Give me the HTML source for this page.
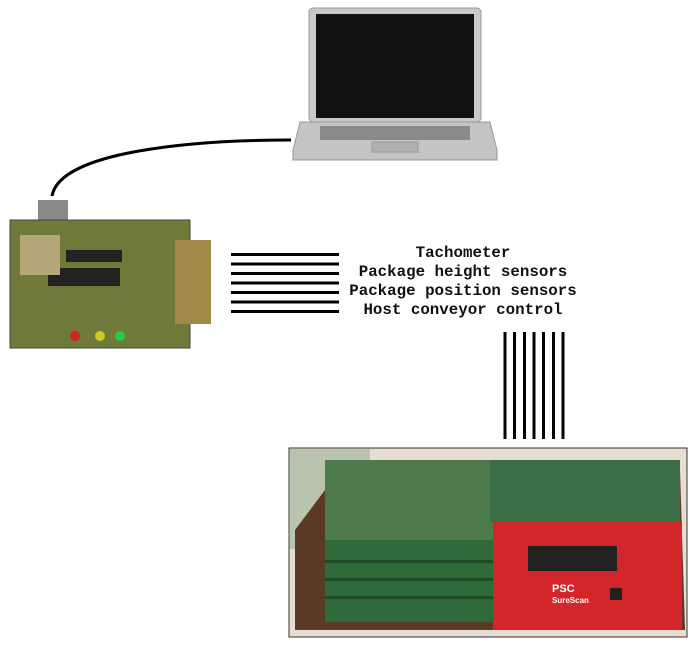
<!DOCTYPE html>
<html><head><meta charset="utf-8"><style>
html,body{margin:0;padding:0;background:#fff;}
svg{display:block}
text{font-family:"Liberation Mono",monospace;font-size:15.8px;font-weight:bold;fill:#111}
</style></head><body>
<svg width="698" height="649" viewBox="0 0 698 649" xmlns="http://www.w3.org/2000/svg">
<!-- laptop -->
<rect x="309" y="8" width="172" height="114" rx="4" fill="#c9c9c9" stroke="#999"/>
<rect x="316" y="14" width="158" height="104" fill="#111"/>
<path d="M300 122 L490 122 L497 150 L497 160 L293 160 L293 150 Z" fill="#c4c4c4" stroke="#999"/>
<rect x="320" y="126" width="150" height="14" fill="#8a8a8a"/>
<rect x="372" y="142" width="46" height="10" fill="#b0b0b0" stroke="#999"/>
<!-- cable -->
<path d="M52 196 C60 150 200 140 291 140" fill="none" stroke="#000" stroke-width="3"/>
<!-- board -->
<rect x="38" y="200" width="30" height="20" fill="#888"/>
<rect x="10" y="220" width="180" height="128" fill="#6f7a3a" stroke="#444"/>
<rect x="175" y="240" width="36" height="84" fill="#a0894a"/>
<rect x="48" y="268" width="72" height="18" fill="#222"/>
<rect x="66" y="250" width="56" height="12" fill="#222"/>
<rect x="20" y="235" width="40" height="40" fill="#b5a77a"/>
<circle cx="75" cy="336" r="5" fill="#c22"/><circle cx="100" cy="336" r="5" fill="#cc2"/><circle cx="120" cy="336" r="5" fill="#2c4"/>
<!-- horizontal lines -->
<g stroke="#000" stroke-width="3">
<line x1="231" y1="254.5" x2="339" y2="254.5"/>
<line x1="231" y1="264" x2="339" y2="264"/>
<line x1="231" y1="273.5" x2="339" y2="273.5"/>
<line x1="231" y1="283" x2="339" y2="283"/>
<line x1="231" y1="292.5" x2="339" y2="292.5"/>
<line x1="231" y1="302" x2="339" y2="302"/>
<line x1="231" y1="311.5" x2="339" y2="311.5"/>
</g>
<g stroke="#000" stroke-width="3">
<line x1="505" y1="332" x2="505" y2="439"/>
<line x1="514.5" y1="332" x2="514.5" y2="439"/>
<line x1="524.5" y1="332" x2="524.5" y2="439"/>
<line x1="534" y1="332" x2="534" y2="439"/>
<line x1="543.5" y1="332" x2="543.5" y2="439"/>
<line x1="553.5" y1="332" x2="553.5" y2="439"/>
<line x1="563" y1="332" x2="563" y2="439"/>
</g>
<text x="463" y="257" text-anchor="middle">Tachometer</text>
<text x="463" y="276" text-anchor="middle">Package height sensors</text>
<text x="463" y="295" text-anchor="middle">Package position sensors</text>
<text x="463" y="314" text-anchor="middle">Host conveyor control</text>
<!-- scanner photo -->
<rect x="289" y="448" width="398" height="189" fill="#e8ddd5" stroke="#333"/>
<rect x="290" y="449" width="80" height="100" fill="#b9c4b0"/>
<path d="M295 530 L340 470 L680 470 L685 630 L295 630 Z" fill="#5a3a25"/>
<rect x="325" y="460" width="168" height="80" fill="#4c7a4a"/>
<rect x="490" y="460" width="190" height="62" fill="#3b6e44"/>
<rect x="325" y="540" width="168" height="82" fill="#2f6a3a"/>
<g fill="#1f4a28"><rect x="325" y="560" width="168" height="3"/><rect x="325" y="578" width="168" height="3"/><rect x="325" y="596" width="168" height="3"/></g>
<rect x="493" y="522" width="189" height="108" fill="#d2262a"/>
<rect x="528" y="546" width="89" height="25" fill="#222"/>
<text x="552" y="592" style="font-family:'Liberation Sans',sans-serif;font-size:11px;fill:#fff">PSC</text>
<text x="552" y="603" style="font-family:'Liberation Sans',sans-serif;font-size:8px;fill:#fff">SureScan</text>
<rect x="610" y="588" width="12" height="12" fill="#222"/>
</svg>
</body></html>
